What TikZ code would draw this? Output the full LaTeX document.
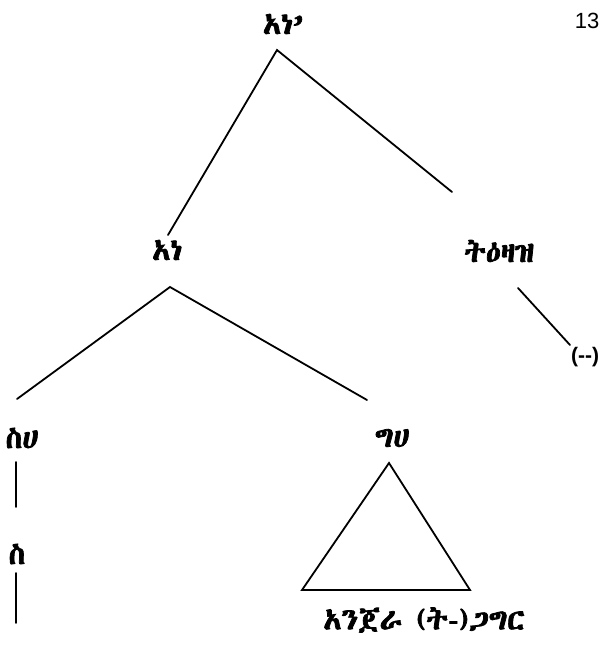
\documentclass[tikz,border=0pt]{standalone}
\usepackage{fontspec}
\IfFontExistsTF{Abyssinica SIL}{\newfontfamily\ethfont[FakeBold=2.5]{Abyssinica SIL}}{%
  \IfFontExistsTF{FreeSerif}{\newfontfamily\ethfont[FakeBold=2.5]{FreeSerif}}{%
   \newfontfamily\ethfont[FakeBold=2.5]{DejaVu Sans}}}
\newfontfamily\latfont{Liberation Sans}
\begin{document}
\begin{tikzpicture}[x=1pt,y=-1pt,
  lab/.style={font=\ethfont\fontsize{30}{32}\selectfont,inner sep=1pt},
  num/.style={font=\latfont\fontsize{22}{24}\selectfont,inner sep=1pt},
  br/.style={line width=1.8pt,line cap=round}]
\useasboundingbox (0,0) rectangle (604,666);
\node[num] (pg) at (587,21) {13};
\node[lab] (top) at (283,24) {አነ’};
\node[lab] (ane) at (167,250) {አነ};
\node[lab] (tz) at (499,251) {ትዕዛዝ};
\node[num,font=\latfont\bfseries\fontsize{21}{23}\selectfont] (pm) at (585,357) {(--)};
\node[lab] (sh) at (22,438) {ስሀ};
\node[lab] (s) at (17,554) {ስ};
\node[lab] (gh) at (392,438) {ግሀ};
\node[lab] (bot) at (424,620) {አንጀራ\hspace{14pt}(ት-)ጋግር};
% branch points
\coordinate (topA) at (277,50);
\coordinate (topL) at (168,235);
\coordinate (topR) at (452,192);
\coordinate (aneA) at (170,287);
\coordinate (aneL) at (17,399);
\coordinate (aneR) at (367,400);
\coordinate (tzA) at (518,288);
\coordinate (tzB) at (570,345);
\coordinate (shA) at (16,462);
\coordinate (shB) at (16,507);
\coordinate (sA) at (16,573);
\coordinate (sB) at (16,623);
\coordinate (triA) at (389,463);
\coordinate (triL) at (302,590);
\coordinate (triR) at (470,590);
\draw[br] (topL) -- (topA) -- (topR);
\draw[br] (aneL) -- (aneA) -- (aneR);
\draw[br] (tzA) -- (tzB);
\draw[br] (shA) -- (shB);
\draw[br] (sA) -- (sB);
\draw[br,line join=miter] (triA) -- (triL) -- (triR) -- cycle;
\end{tikzpicture}
\end{document}
